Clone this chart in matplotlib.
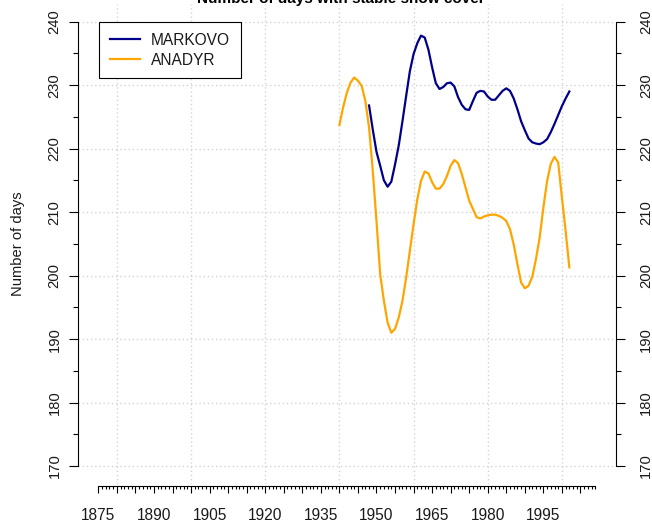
import matplotlib
matplotlib.use('Agg')
import matplotlib.pyplot as plt
from matplotlib.ticker import FixedLocator, FuncFormatter

plt.rcParams['font.family'] = ['Liberation Sans', 'DejaVu Sans']

# ---- data ----
anadyr_years = list(range(1940, 2003))
anadyr = [223.7, 226.5, 228.8, 230.4, 231.2, 230.7, 229.9, 227.5, 223.3, 216.5,
          208.6, 200.2, 196.0, 192.6, 191.0, 191.6, 193.4, 196.0, 199.7, 203.9,
          208.1, 212.0, 214.9, 216.4, 216.1, 214.7, 213.7, 213.7, 214.4, 215.7,
          217.3, 218.2, 217.7, 216.0, 213.9, 211.8, 210.5, 209.2, 209.0, 209.3,
          209.5, 209.6, 209.6, 209.4, 209.1, 208.6, 207.3, 204.9, 201.8, 198.9,
          198.0, 198.4, 199.8, 202.6, 206.0, 210.7, 214.9, 217.6, 218.7, 217.8,
          212.3, 207.0, 201.3]
markovo_years = list(range(1948, 2003))
markovo = [226.8, 223.0, 219.5, 217.3, 215.0, 214.0, 214.8, 217.5, 220.5, 224.3,
           228.3, 232.2, 234.9, 236.6, 237.8, 237.5, 235.6, 232.8, 230.3, 229.4,
           229.7, 230.3, 230.4, 229.8, 228.1, 226.9, 226.2, 226.1, 227.5, 228.8,
           229.1, 229.0, 228.2, 227.7, 227.7, 228.4, 229.1, 229.5, 229.1, 227.9,
           226.2, 224.3, 222.9, 221.6, 221.0, 220.8, 220.7, 221.0, 221.5, 222.6,
           223.9, 225.3, 226.7, 227.9, 229.0]
series_names = ['MARKOVO', 'ANADYR']
series_colors = ['#00008B', '#FFA500']

x_axis_range = (1875, 2009)
x_major_years = list(range(1875, 2010, 5))
x_minor_years = list(range(1875, 2010, 1))
x_label_years = list(range(1875, 2000, 15))
x_grid_years = list(range(1880, 2001, 20))
y_range = (170, 240)
y_label_values = list(range(170, 241, 10))
y_minor_values = list(range(175, 240, 10))

title = 'Number of days with stable snow cover'
ylabel = 'Number of days'

# ---- layout ----
W, H = 652, 528
fig = plt.figure(figsize=(W / 100, H / 100), dpi=100)
left_px, right_px, top_px, bottom_px = 78.3, 615.7, 3.9, 483.8
ax = fig.add_axes([left_px / W, 1 - bottom_px / H,
                   (right_px - left_px) / W, (bottom_px - top_px) / H])
ax.set_xlim(1869.6, 2014.5)
ax.set_ylim(167.2, 242.8)

grid_kw = dict(color='#d3d3d3', linestyle=(0, (1, 2)), linewidth=1.0, zorder=0)
for v in y_label_values:
    ax.axhline(v, **grid_kw)
for g in x_grid_years:
    ax.axvline(g, **grid_kw)

ax.plot(markovo_years, markovo, color=series_colors[0], lw=1.6, label=series_names[0], zorder=3)
ax.plot(anadyr_years, anadyr, color=series_colors[1], lw=1.6, label=series_names[1], zorder=3)

tc = '#1a1a1a'
fs = 10.6
for s in ['top', 'right']:
    ax.spines[s].set_visible(False)
ax.spines['left'].set_bounds(*y_range)
ax.spines['left'].set_linewidth(0.8)
ax.spines['bottom'].set_bounds(*x_axis_range)
ax.spines['bottom'].set_position(('outward', 1.4))
ax.spines['bottom'].set_linewidth(0.8)

ax.yaxis.set_major_locator(FixedLocator(y_label_values))
ax.yaxis.set_minor_locator(FixedLocator(y_minor_values))
ax.tick_params(axis='y', which='major', length=6.5, width=0.8, pad=5.5,
               labelsize=fs, labelcolor=tc, labelrotation=90)
ax.tick_params(axis='y', which='minor', length=3.6, width=0.8)
for lab in ax.get_yticklabels():
    lab.set_va('center')

ax.xaxis.set_major_locator(FixedLocator(x_major_years))
ax.xaxis.set_minor_locator(FixedLocator([y for y in x_minor_years if y not in x_major_years]))
ax.xaxis.set_major_formatter(FuncFormatter(
    lambda v, p: str(int(round(v))) if int(round(v)) in x_label_years else ''))
ax.tick_params(axis='x', which='major', length=5.0, width=0.8, pad=11,
               labelsize=11.2, labelcolor=tc)
ax.tick_params(axis='x', which='minor', length=2.5, width=0.8)

# right axis
ax2 = ax.twinx()
ax2.set_ylim(ax.get_ylim())
for s in ['top', 'left', 'bottom']:
    ax2.spines[s].set_visible(False)
ax2.spines['right'].set_bounds(*y_range)
ax2.spines['right'].set_linewidth(0.8)
ax2.yaxis.set_major_locator(FixedLocator(y_label_values))
ax2.yaxis.set_minor_locator(FixedLocator(y_minor_values))
ax2.tick_params(axis='y', which='major', length=6.5, width=0.8, pad=10.5,
                labelsize=fs, labelcolor=tc, labelrotation=90)
ax2.tick_params(axis='y', which='minor', length=3.6, width=0.8)
for lab in ax2.get_yticklabels():
    lab.set_va('center')

leg = ax.legend(loc='upper left', bbox_to_anchor=(1875.2, 240), bbox_transform=ax.transData,
                borderaxespad=0, fancybox=False, framealpha=1, edgecolor='black',
                fontsize=11.2, handlelength=1.9, handletextpad=0.75,
                borderpad=0.7, labelspacing=0.32)
leg.get_frame().set_linewidth(0.8)
for t in leg.get_texts():
    t.set_color(tc)

fig.text(341 / W, 1 - 3.5 / H, title, ha='center', va='baseline',
         fontsize=11, fontweight='bold', color='black')
fig.text(18 / W, 1 - 244 / H, ylabel, rotation=90, ha='center', va='center',
         fontsize=fs, color=tc)

fig.savefig('out.png', dpi=100)
